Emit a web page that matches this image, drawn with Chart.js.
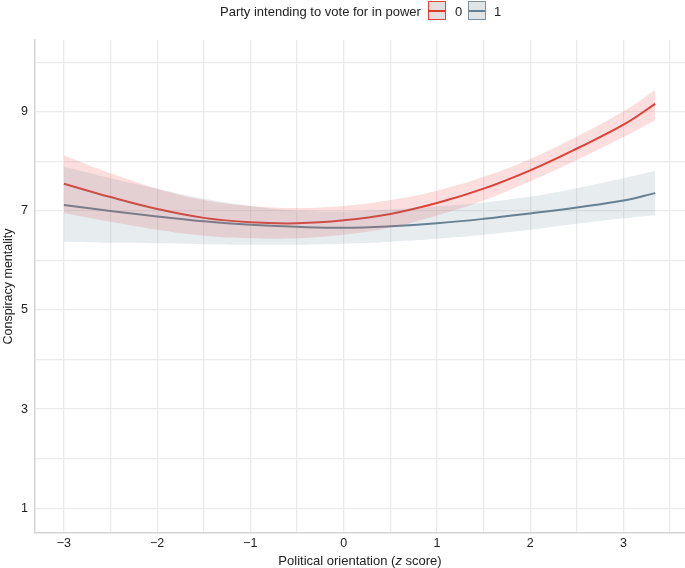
<!DOCTYPE html>
<html>
<head>
<meta charset="utf-8">
<script src="https://cdn.jsdelivr.net/npm/chart.js@4.4.1/dist/chart.umd.min.js"></script>
<style>
  html, body { margin: 0; padding: 0; background: #fff; }
  #wrap { position: relative; width: 685px; height: 568px; font-family: "Liberation Sans", Arial, sans-serif; color: #222; }
  #c { position: absolute; left: 0; top: 0; }
  .lg { position: absolute; font-size: 13px; line-height: 16px; }
  .key { position: absolute; width: 18px; height: 19px; box-sizing: border-box; border: 1.5px solid; }
  .key span { position: absolute; left: 0; right: 0; top: 7.5px; height: 2px; }
  #xt { position: absolute; top: 553px; left: 35px; width: 650px; text-align: center; font-size: 13px; line-height: 15px; }
</style>
</head>
<body>
<div id="wrap">
  <canvas id="c" width="685" height="568"></canvas>
  <div class="lg" style="left:220px; top:4px;">Party intending to vote for in power</div>
  <div class="key" style="left:428px; top:1px; border-color:#e0453a; background:#e3dede;"><span style="background:#dc3a2e"></span></div>
  <div class="lg" style="left:455px; top:4px;">0</div>
  <div class="key" style="left:468px; top:1px; border-color:#7a93a1; background:#e1e4e6;"><span style="background:#62808f"></span></div>
  <div class="lg" style="left:494px; top:4px;">1</div>
  <div id="xt">Political orientation (<i>z</i> score)</div>
</div>
<script>
// x positions (political orientation z score)
const xs = [-3, -2.5, -2, -1.5, -1, -0.5, 0, 0.5, 1, 1.5, 2, 2.5, 3, 3.34];
// Party 0 (not in power)
const fit0   = [7.55, 7.28, 7.04, 6.86, 6.77, 6.75, 6.81, 6.94, 7.16, 7.45, 7.82, 8.26, 8.74, 9.16];
const upper0 = [8.12, 7.76, 7.45, 7.22, 7.10, 7.06, 7.10, 7.22, 7.41, 7.69, 8.05, 8.50, 9.01, 9.44];
const lower0 = [6.96, 6.78, 6.62, 6.50, 6.45, 6.45, 6.52, 6.66, 6.91, 7.21, 7.60, 8.03, 8.49, 8.83];
// Party 1 (in power)
const fit1   = [7.12, 7.00, 6.89, 6.79, 6.72, 6.68, 6.66, 6.69, 6.75, 6.84, 6.95, 7.07, 7.21, 7.36];
const upper1 = [7.89, 7.66, 7.45, 7.25, 7.10, 7.01, 6.99, 7.03, 7.09, 7.17, 7.29, 7.46, 7.66, 7.81];
const lower1 = [6.38, 6.36, 6.35, 6.33, 6.32, 6.32, 6.34, 6.38, 6.44, 6.52, 6.62, 6.74, 6.85, 6.92];
const yTickLabels = [1, 3, 5, 7, 9];
const xTickLabels = [-3, -2, -1, 0, 1, 2, 3];

const pts = arr => arr.map((v, i) => ({ x: xs[i], y: v }));
const common = { pointRadius: 0, pointHoverRadius: 0, tension: 0.4 };

new Chart(document.getElementById('c'), {
  type: 'line',
  data: {
    datasets: [
      Object.assign({ data: pts(upper1), borderWidth: 0, borderColor: 'rgba(0,0,0,0)', backgroundColor: 'rgba(110,140,158,0.17)', fill: '+1' }, common),
      Object.assign({ data: pts(lower1), borderWidth: 0, borderColor: 'rgba(0,0,0,0)', fill: false }, common),
      Object.assign({ data: pts(upper0), borderWidth: 0, borderColor: 'rgba(0,0,0,0)', backgroundColor: 'rgba(238,90,90,0.2)', fill: '+1' }, common),
      Object.assign({ data: pts(lower0), borderWidth: 0, borderColor: 'rgba(0,0,0,0)', fill: false }, common),
      Object.assign({ data: pts(fit1), borderWidth: 2, borderColor: '#647f8e', fill: false }, common),
      Object.assign({ data: pts(fit0), borderWidth: 2, borderColor: '#dc3a2e', fill: false }, common)
    ]
  },
  options: {
    responsive: false,
    animation: false,
    layout: { padding: { top: 40, right: 0, left: 0, bottom: 0 } },
    plugins: { legend: { display: false }, tooltip: { enabled: false } },
    scales: {
      x: {
        type: 'linear', min: -3.31, max: 3.66,
        afterBuildTicks: s => { const t = []; for (let v = -3; v <= 3.5001; v += 0.5) t.push({ value: Math.round(v * 2) / 2 }); s.ticks = t; },
        afterFit: s => { s.height = 35; },
        grid: { color: '#ebebeb', lineWidth: 1.3, drawTicks: false },
        border: { color: '#d4d4d4', width: 1.5 },
        ticks: {
          padding: 3, color: '#222', font: { family: 'Liberation Sans', size: 12.5 },
          autoSkip: false, maxRotation: 0,
          callback: v => xTickLabels.includes(v) ? (v < 0 ? '\u2212' + Math.abs(v) : String(v)) : ''
        }
      },
      y: {
        type: 'linear', min: 0.5, max: 10.45,
        afterBuildTicks: s => { const t = []; for (let v = 1; v <= 10; v++) t.push({ value: v }); s.ticks = t; },
        afterFit: s => { s.width = 35; },
        grid: { color: '#ebebeb', lineWidth: 1.3, drawTicks: false },
        border: { color: '#d4d4d4', width: 1.5 },
        title: { display: true, text: 'Conspiracy mentality', color: '#222', font: { family: 'Liberation Sans', size: 12.5 }, padding: { top: 1, bottom: 0 } },
        ticks: {
          padding: 7, color: '#222', font: { family: 'Liberation Sans', size: 12.5 },
          autoSkip: false,
          callback: v => yTickLabels.includes(v) ? String(v) : ''
        }
      }
    }
  }
});
</script>
</body>
</html>
